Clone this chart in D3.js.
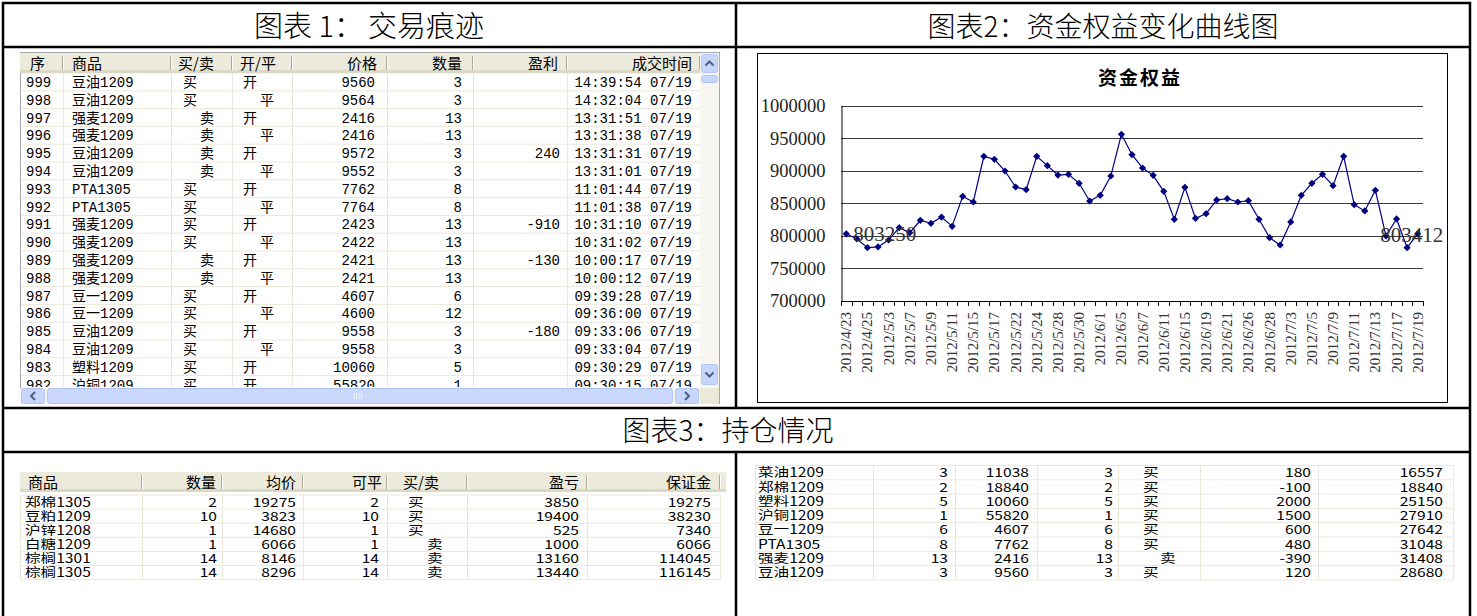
<!DOCTYPE html>
<html>
<head>
<meta charset="utf-8">
<script src="https://cdn.jsdelivr.net/npm/d3@7"></script>
<style>
  body { margin: 0; background: #fff; }
  svg text { font-family: "Noto Sans CJK SC", sans-serif; }
</style>
</head>
<body>
<div id="canvas"></div>
<script>
// ---- data: trade log (图表1)
const tradeNo = [999, 998, 997, 996, 995, 994, 993, 992, 991, 990, 989, 988, 987, 986, 985, 984, 983, 982];
const tradeSym = ["豆油1209", "豆油1209", "强麦1209", "强麦1209", "豆油1209", "豆油1209", "PTA1305", "PTA1305", "强麦1209",
  "强麦1209", "强麦1209", "强麦1209", "豆一1209", "豆一1209", "豆油1209", "豆油1209", "塑料1209", "沪铜1209"];
const tradeSide = ["买", "买", "卖", "卖", "卖", "卖", "买", "买", "买", "买", "卖", "卖", "买", "买", "买", "买", "买", "买"];
const tradeOC = ["开", "平", "开", "平", "开", "平", "开", "平", "开", "平", "开", "平", "开", "平", "开", "平", "开", "开"];
const tradePrice = [9560, 9564, 2416, 2416, 9572, 9552, 7762, 7764, 2423, 2422, 2421, 2421, 4607, 4600, 9558, 9558, 10060, 55820];
const tradeQty = [3, 3, 13, 13, 3, 3, 8, 8, 13, 13, 13, 13, 6, 12, 3, 3, 5, 1];
const tradePnl = ["", "", "", "", 240, "", "", "", -910, "", -130, "", "", "", -180, "", "", ""];
const tradeTime = ["14:39:54 07/19", "14:32:04 07/19", "13:31:51 07/19", "13:31:38 07/19", "13:31:31 07/19", "13:31:01 07/19",
  "11:01:44 07/19", "11:01:38 07/19", "10:31:10 07/19", "10:31:02 07/19", "10:00:17 07/19", "10:00:12 07/19",
  "09:39:28 07/19", "09:36:00 07/19", "09:33:06 07/19", "09:33:04 07/19", "09:30:29 07/19", "09:30:15 07/19"];
const tradeHeader = ["序", "商品", "买/卖", "开/平", "价格", "数量", "盈利", "成交时间"];

// ---- data: equity curve (图表2)
const equity = [803250, 795300, 781900, 783000, 793700, 812600, 805000, 824000, 819300, 829000, 814700, 860800, 852100,
  922300, 917600, 899700, 875100, 871000, 922300, 907900, 893500, 894600, 880800, 853600, 862300, 892000, 956000,
  924700, 904300, 893000, 868500, 825500, 874600, 827000, 834100, 855200, 857200, 852100, 854100, 825500, 797300,
  786000, 821400, 862300, 880800, 894600, 877100, 922300, 848000, 838300, 870000, 799900, 826000, 781900, 803412];
const dateLabels = ["2012/4/23", "2012/4/25", "2012/5/3", "2012/5/7", "2012/5/9", "2012/5/11", "2012/5/15", "2012/5/17",
  "2012/5/22", "2012/5/24", "2012/5/28", "2012/5/30", "2012/6/1", "2012/6/5", "2012/6/7", "2012/6/11", "2012/6/15",
  "2012/6/19", "2012/6/21", "2012/6/26", "2012/6/28", "2012/7/3", "2012/7/5", "2012/7/9", "2012/7/11", "2012/7/13",
  "2012/7/17", "2012/7/19"];
const yTicks = [700000, 750000, 800000, 850000, 900000, 950000, 1000000];

// ---- data: positions (图表3)
const posHeader = ["商品", "数量", "均价", "可平", "买/卖", "盈亏", "保证金"];
const posASym = ["郑棉1305", "豆粕1209", "沪锌1208", "白糖1209", "棕榈1301", "棕榈1305"];
const posAQty = [2, 10, 1, 1, 14, 14];
const posAAvg = [19275, 3823, 14680, 6066, 8146, 8296];
const posAAvail = [2, 10, 1, 1, 14, 14];
const posASide = ["买", "买", "买", "卖", "卖", "卖"];
const posAPnl = [3850, 19400, 525, 1000, 13160, 13440];
const posAMargin = [19275, 38230, 7340, 6066, 114045, 116145];

const posBSym = ["菜油1209", "郑棉1209", "塑料1209", "沪铜1209", "豆一1209", "PTA1305", "强麦1209", "豆油1209"];
const posBQty = [3, 2, 5, 1, 6, 8, 13, 3];
const posBAvg = [11038, 18840, 10060, 55820, 4607, 7762, 2416, 9560];
const posBAvail = [3, 2, 5, 1, 6, 8, 13, 3];
const posBSide = ["买", "买", "买", "买", "买", "买", "卖", "买"];
const posBPnl = [180, -100, 2000, 1500, 600, 480, -390, 120];
const posBMargin = [16557, 18840, 25150, 27910, 27642, 31048, 31408, 28680];

const serif = '"Liberation Serif", "Times New Roman", serif';
const sans = '"Noto Sans CJK SC", sans-serif';
const mono = '"Liberation Mono", "Noto Sans CJK SC", monospace';
const gridColor = "#ebe8da";

const svg = d3.select("#canvas")
  .append("svg")
  .attr("width", 1477)
  .attr("height", 616);

svg.append("rect").attr("width", 1477).attr("height", 616).attr("fill", "#fff");

// ---------- generic list-view helpers
function headerBar(g, edges, y0, y1, labels, aligns) {
  g.append("rect").attr("x", edges[0]).attr("y", y0)
    .attr("width", edges[edges.length - 1] - edges[0] + 6).attr("height", y1 - y0)
    .attr("fill", "#ebeadb");
  g.append("rect").attr("x", edges[0]).attr("y", y1 - 3)
    .attr("width", edges[edges.length - 1] - edges[0] + 6).attr("height", 3)
    .attr("fill", "#dcd8c6");
  edges.slice(1).forEach(e => {
    g.append("line").attr("x1", e - 0.5).attr("x2", e - 0.5).attr("y1", y0 + 3).attr("y2", y1 - 3)
      .attr("stroke", "#aca899");
    g.append("line").attr("x1", e + 0.5).attr("x2", e + 0.5).attr("y1", y0 + 3).attr("y2", y1 - 3)
      .attr("stroke", "#fff");
  });
  labels.forEach((t, i) => {
    const a = aligns[i];
    g.append("text")
      .attr("x", a.anchor === "end" ? edges[i + 1] - a.pad : edges[i] + a.pad)
      .attr("y", (y0 + y1) / 2 + 5.5)
      .attr("text-anchor", a.anchor)
      .style("font-size", "15px")
      .attr("fill", "#000")
      .text(t);
  });
}

function bodyGrid(g, edges, top, rowH, n) {
  d3.range(n + 1).forEach(i => {
    g.append("line").attr("x1", edges[0]).attr("x2", edges[edges.length - 1])
      .attr("y1", top + i * rowH).attr("y2", top + i * rowH)
      .attr("stroke", gridColor);
  });
  edges.forEach(e => {
    g.append("line").attr("x1", e + 0.5).attr("x2", e + 0.5)
      .attr("y1", top).attr("y2", top + n * rowH)
      .attr("stroke", gridColor);
  });
}

// cols: [{values, anchor, pad, alt, padAlt}]; fs = font size, sx = horizontal stretch
function bodyText(g, edges, top, rowH, cols, fs, sx, ff) {
  const dy = fs * 0.37;
  cols.forEach((c, ci) => {
    g.selectAll(null)
      .data(c.values)
      .enter()
      .append("text")
      .attr("transform", (d, i) => {
        let px;
        if (c.anchor === "end") px = edges[ci + 1] - c.pad;
        else if (c.alt && d === c.alt) px = edges[ci] + c.padAlt;
        else px = edges[ci] + c.pad;
        return `translate(${px},${top + i * rowH + rowH / 2 + dy}) scale(${sx},1)`;
      })
      .attr("text-anchor", c.anchor)
      .style("font-family", ff)
      .style("font-size", fs + "px")
      .attr("fill", "#000")
      .text(d => d);
  });
}

// ---------- 图表1: trade list
const t1 = svg.append("g");
const t1Edges = [20, 63, 171, 232, 292, 387, 473, 567, 700];
const t1Top = 73, t1RowH = 17.8, t1Bottom = 387;

t1.append("rect").attr("x", 20.5).attr("y", 52.5).attr("width", 699).attr("height", 351)
  .attr("fill", "#fff").attr("stroke", "#a7a6aa");

svg.append("clipPath").attr("id", "t1clip")
  .append("rect").attr("x", 21).attr("y", t1Top).attr("width", 679).attr("height", t1Bottom - t1Top);

const t1Body = t1.append("g").attr("clip-path", "url(#t1clip)");
bodyGrid(t1Body, t1Edges, t1Top, t1RowH, tradeNo.length);
bodyText(t1Body, t1Edges, t1Top, t1RowH, [
  { values: tradeNo, anchor: "start", pad: 6 },
  { values: tradeSym, anchor: "start", pad: 9 },
  { values: tradeSide, anchor: "start", pad: 12, alt: "卖", padAlt: 29 },
  { values: tradeOC, anchor: "start", pad: 11, alt: "平", padAlt: 28 },
  { values: tradePrice, anchor: "end", pad: 12 },
  { values: tradeQty, anchor: "end", pad: 11 },
  { values: tradePnl, anchor: "end", pad: 7 },
  { values: tradeTime, anchor: "end", pad: 8 }
], 14, 1, mono);

headerBar(t1, t1Edges, 53, 73, tradeHeader, [
  { anchor: "start", pad: 10 }, { anchor: "start", pad: 9 }, { anchor: "start", pad: 7 },
  { anchor: "start", pad: 8 }, { anchor: "end", pad: 10 }, { anchor: "end", pad: 11 },
  { anchor: "end", pad: 9 }, { anchor: "end", pad: 8 }
]);

// scrollbars (XP style)
function scrollButton(g, x, y, w, h, dir) {
  g.append("rect").attr("x", x + 0.5).attr("y", y + 0.5).attr("width", w - 1).attr("height", h - 1)
    .attr("rx", 2).attr("fill", "#c7d6fb").attr("stroke", "#b3c6f3");
  const cx = x + w / 2, cy = y + h / 2;
  const pts = {
    up: [[cx - 4, cy + 2], [cx, cy - 2], [cx + 4, cy + 2]],
    down: [[cx - 4, cy - 2], [cx, cy + 2], [cx + 4, cy - 2]],
    left: [[cx + 2, cy - 4], [cx - 2, cy], [cx + 2, cy + 4]],
    right: [[cx - 2, cy - 4], [cx + 2, cy], [cx - 2, cy + 4]]
  }[dir];
  g.append("path").attr("d", d3.line()(pts)).attr("fill", "none")
    .attr("stroke", "#4d6185").attr("stroke-width", 2);
}
const sb = t1.append("g");
sb.append("rect").attr("x", 700).attr("y", 53).attr("width", 19).attr("height", 335).attr("fill", "#f7f6f1");
sb.append("rect").attr("x", 20).attr("y", 388).attr("width", 680).attr("height", 16).attr("fill", "#f7f6f1");
sb.append("rect").attr("x", 700).attr("y", 388).attr("width", 19).attr("height", 16).attr("fill", "#ece9d8");
scrollButton(sb, 701, 54, 17, 19, "up");
scrollButton(sb, 701, 364, 17, 21, "down");
sb.append("rect").attr("x", 701.5).attr("y", 75.5).attr("width", 16).attr("height", 7).attr("rx", 3)
  .attr("fill", "#c7d6fb").attr("stroke", "#a9bff2");
scrollButton(sb, 21, 388, 24, 16, "left");
scrollButton(sb, 675, 388, 24, 16, "right");
sb.append("rect").attr("x", 47.5).attr("y", 388.5).attr("width", 625).attr("height", 15).attr("rx", 3)
  .attr("fill", "#c9d8fc").attr("stroke", "#adc2f3");
d3.range(4).forEach(i => {
  sb.append("line").attr("x1", 354 + i * 2.5).attr("x2", 354 + i * 2.5).attr("y1", 393).attr("y2", 399)
    .attr("stroke", "#eef3fe");
});

// ---------- 图表2: equity chart
const chart = svg.append("g");
chart.append("rect").attr("x", 757.5).attr("y", 53.5).attr("width", 690).attr("height", 349)
  .attr("fill", "#fff").attr("stroke", "#000");

const plot = { left: 841, right: 1423, top: 105.7, bottom: 301 };
const x = d3.scaleBand().domain(d3.range(equity.length)).range([plot.left, plot.right]);
const cx = i => x(i) + x.bandwidth() / 2;
const y = d3.scaleLinear().domain([700000, 1000000]).range([plot.bottom, plot.top]);

chart.append("g")
  .selectAll("line")
  .data(yTicks.filter(v => v > 700000))
  .enter()
  .append("line")
  .attr("x1", plot.left).attr("x2", plot.right)
  .attr("y1", d => Math.round(y(d)) + 0.5).attr("y2", d => Math.round(y(d)) + 0.5)
  .attr("stroke", "#3a3a3a");

const yAxis = chart.append("g")
  .attr("transform", `translate(${plot.left + 0.5},0)`)
  .call(d3.axisLeft(y).tickValues(yTicks).tickSize(0).tickPadding(16).tickFormat(d3.format("d")));
yAxis.select(".domain").attr("stroke", "#000");
yAxis.selectAll("text").style("font-family", serif).style("font-size", "18.5px").attr("fill", "#222");

// x axis: line, category-boundary ticks, rotated labels
chart.append("line").attr("x1", plot.left).attr("x2", plot.right)
  .attr("y1", plot.bottom + 0.5).attr("y2", plot.bottom + 0.5).attr("stroke", "#000");
chart.append("g")
  .selectAll("line")
  .data(d3.range(equity.length + 1))
  .enter()
  .append("line")
  .attr("x1", i => Math.round(plot.left + i * x.step()) + 0.5)
  .attr("x2", i => Math.round(plot.left + i * x.step()) + 0.5)
  .attr("y1", plot.bottom).attr("y2", plot.bottom + 5)
  .attr("stroke", "#000");
chart.append("g")
  .selectAll("text")
  .data(dateLabels)
  .enter()
  .append("text")
  .attr("transform", (d, i) => `translate(${cx(i * 2) + 5},${plot.bottom + 11}) rotate(-90)`)
  .attr("text-anchor", "end")
  .style("font-family", serif)
  .style("font-size", "15px")
  .attr("fill", "#333")
  .text(d => d);

const line = d3.line().x((d, i) => cx(i)).y(d => y(d));
chart.append("path")
  .datum(equity)
  .attr("d", line)
  .attr("fill", "none")
  .attr("stroke", "#000080")
  .attr("stroke-width", 1.2);

chart.append("g")
  .selectAll("path")
  .data(equity)
  .enter()
  .append("path")
  .attr("d", d3.symbol(d3.symbolSquare, 26))
  .attr("transform", (d, i) => `translate(${cx(i)},${y(d)}) rotate(45)`)
  .attr("fill", "#000080");

const last = equity.length - 1;
chart.append("text")
  .attr("x", cx(0) + 7).attr("y", y(equity[0]) + 7)
  .style("font-family", serif).style("font-size", "21px").attr("fill", "#333")
  .text(equity[0]);
chart.append("text")
  .attr("x", cx(last) - 6).attr("y", y(equity[last]) + 8)
  .attr("text-anchor", "middle")
  .style("font-family", serif).style("font-size", "21px").attr("fill", "#333")
  .text(equity[last]);

chart.append("text")
  .attr("x", 1140).attr("y", 85)
  .attr("text-anchor", "middle")
  .style("font-size", "19px").style("font-weight", "bold").style("letter-spacing", "2px")
  .attr("fill", "#000")
  .text("资金权益");

// ---------- 图表3: position tables
const t2 = svg.append("g");
const t2Edges = [20, 142, 222, 303, 387, 467, 587, 720];
const t2Top = 495, t2RowH = 14.1;
bodyGrid(t2, t2Edges, t2Top, t2RowH, posASym.length);
headerBar(t2, t2Edges, 472, 492, posHeader, [
  { anchor: "start", pad: 8 }, { anchor: "end", pad: 6 }, { anchor: "end", pad: 7 }, { anchor: "end", pad: 5 },
  { anchor: "start", pad: 16 }, { anchor: "end", pad: 8 }, { anchor: "end", pad: 9 }
]);
bodyText(t2, t2Edges, t2Top, t2RowH, [
  { values: posASym, anchor: "start", pad: 5 },
  { values: posAQty, anchor: "end", pad: 5 },
  { values: posAAvg, anchor: "end", pad: 7 },
  { values: posAAvail, anchor: "end", pad: 8 },
  { values: posASide, anchor: "start", pad: 21, alt: "卖", padAlt: 40 },
  { values: posAPnl, anchor: "end", pad: 8 },
  { values: posAMargin, anchor: "end", pad: 9 }
], 12.5, 1.25, sans);

const t3 = svg.append("g");
const t3Edges = [755, 873, 955, 1037, 1118, 1200, 1318, 1453];
const t3Top = 465.5, t3RowH = 14.3;
bodyGrid(t3, t3Edges, t3Top, t3RowH, posBSym.length);
bodyText(t3, t3Edges, t3Top, t3RowH, [
  { values: posBSym, anchor: "start", pad: 3 },
  { values: posBQty, anchor: "end", pad: 7 },
  { values: posBAvg, anchor: "end", pad: 8 },
  { values: posBAvail, anchor: "end", pad: 5 },
  { values: posBSide, anchor: "start", pad: 25, alt: "卖", padAlt: 42 },
  { values: posBPnl, anchor: "end", pad: 7 },
  { values: posBMargin, anchor: "end", pad: 10 }
], 12.5, 1.25, sans);

// ---------- document frame and captions
const frame = svg.append("g").attr("stroke", "#000").attr("stroke-width", 2.5);
[[2, 3, 1471, 3], [3, 2, 3, 616], [1470, 2, 1470, 616], [2, 47, 1471, 47], [2, 408, 1471, 408],
 [2, 452, 1471, 452], [736, 3, 736, 408], [736, 452, 736, 616]].forEach(l => {
  frame.append("line").attr("x1", l[0]).attr("y1", l[1]).attr("x2", l[2]).attr("y2", l[3]);
});

const captions = [
  { parts: ["图表 1：", "交易痕迹"], x: 369, y: 37, fs: 29, gap: 5 },
  { parts: ["图表2：", "资金权益变化曲线图"], x: 1103, y: 37, fs: 28, gap: 0 },
  { parts: ["图表3：", "持仓情况"], x: 728, y: 441, fs: 28, gap: 0 }
];
const cap = svg.append("g")
  .selectAll("text")
  .data(captions)
  .enter()
  .append("text")
  .attr("x", d => d.x).attr("y", d => d.y)
  .attr("text-anchor", "middle")
  .style("font-size", d => d.fs + "px")
  .style("font-weight", 300)
  .attr("fill", "#000");
cap.append("tspan").text(d => d.parts[0]);
cap.append("tspan").attr("dx", d => d.gap).text(d => d.parts[1]);
</script>
</body>
</html>
